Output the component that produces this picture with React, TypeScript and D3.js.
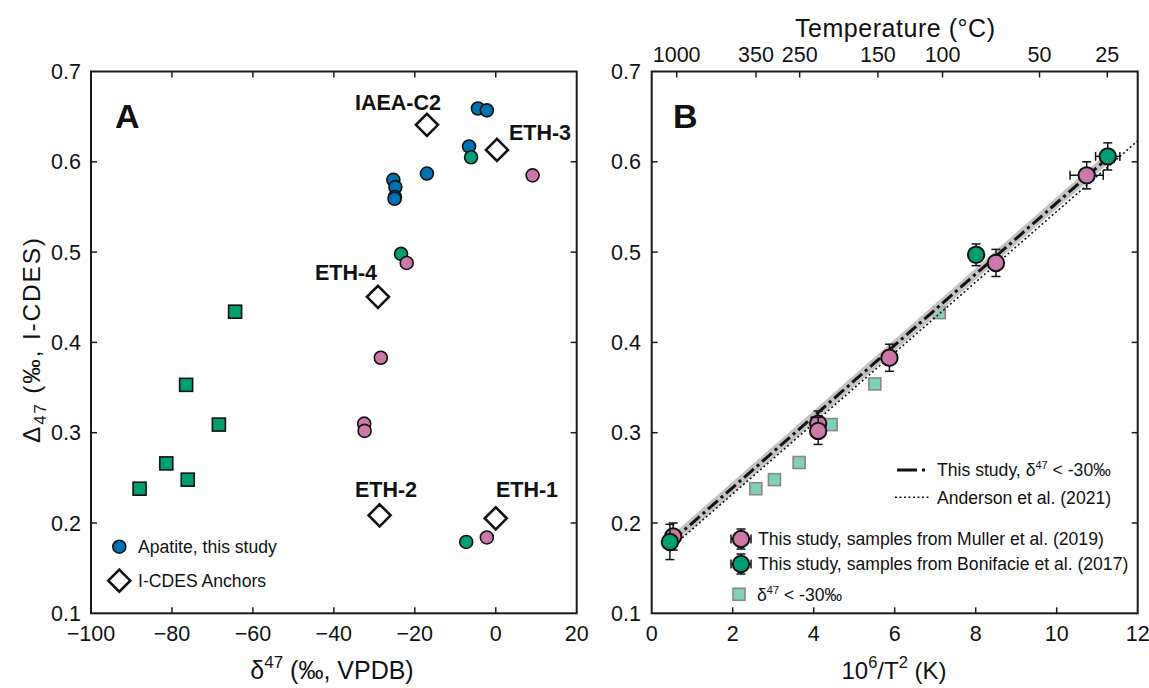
import React from "react";
import * as d3 from "d3";

// ---------- Panel A data: δ47 (‰ VPDB) vs Δ47 (‰ I-CDES) ----------
const apatiteD47 = [-4.4, -2.2, -6.6, -17.0, -25.3, -24.8, -24.9, -25.0];
const apatiteCap47 = [0.659, 0.657, 0.617, 0.587, 0.58, 0.572, 0.561, 0.559];

const mullerD47 = [9.1, -22.0, -28.4, -32.5, -32.4, -2.2];
const mullerCap47A = [0.585, 0.488, 0.383, 0.31, 0.302, 0.184];

const bonifD47 = [-6.1, -23.4, -7.3];
const bonifCap47A = [0.605, 0.498, 0.179];

const lowD47 = [-64.4, -76.5, -68.4, -81.4, -76.1, -88.0];
const lowCap47A = [0.434, 0.353, 0.309, 0.266, 0.248, 0.238];

const anchorNames = ["IAEA-C2", "ETH-3", "ETH-4", "ETH-2", "ETH-1"];
const anchorD47 = [-17.0, 0.3, -29.1, -28.7, 0.0];
const anchorCap47 = [0.6409, 0.6132, 0.4505, 0.2085, 0.2052];

// ---------- Panel B data: 10^6/T^2 vs Δ47 ----------
const mullerT2 = [10.74, 8.5, 5.87, 4.11, 4.11, 0.53];
const mullerCap47B = [0.585, 0.488, 0.383, 0.31, 0.302, 0.185];
const mullerErrY = [0.015, 0.015, 0.015, 0.014, 0.015, 0.015];
const mullerErrX = [0.41, 0, 0, 0, 0, 0];

const bonifT2 = [11.26, 8.01, 0.45];
const bonifCap47B = [0.606, 0.497, 0.179];
const bonifErrY = [0.015, 0.012, 0.0195];
const bonifErrX = [0.3, 0, 0];

const lowT2 = [7.1, 5.51, 4.43, 3.64, 3.03, 2.57];
const lowCap47B = [0.433, 0.354, 0.309, 0.267, 0.248, 0.238];

// regressions
const studySlope = 0.0394;
const studyIntercept = 0.1605;
const studyRange = [0.5, 11.4];
const studyBandHalf = 0.0065;
const andersonSlope = 0.0391;
const andersonIntercept = 0.154;
const andersonRange = [0.5, 12];

// ticks
const xTicksA = [-100, -80, -60, -40, -20, 0, 20];
const yTicks = [0.1, 0.2, 0.3, 0.4, 0.5, 0.6, 0.7];
const xTicksB = [0, 2, 4, 6, 8, 10, 12];
const tempTicks = [1000, 350, 250, 150, 100, 50, 25];

const FONT = "'Liberation Sans', Arial, Helvetica, sans-serif";
const BLUE = "#0072B2";
const GREEN = "#009E73";
const PINK = "#CC79A7";
const TEAL = "#80CFB9";

const xA = d3.scaleLinear().domain([-100, 20]).range([91, 576.7]);
const xB = d3.scaleLinear().domain([0, 12]).range([651.7, 1137.7]);
const yS = d3.scaleLinear().domain([0.1, 0.7]).range([613.3, 71.5]);

const diamond = (s: number) => `M0,${-s}L${s},0L0,${s}L${-s},0Z`;

function Frame({ x0, x1 }: { x0: number; x1: number }) {
  return (
    <rect x={x0} y={yS(0.7)} width={x1 - x0} height={yS(0.1) - yS(0.7)} fill="none" stroke="#1a1a1a" strokeWidth={2} />
  );
}

function ErrPoint({ cx, cy, ex, ey, fill, r }: any) {
  const cap = 4.5;
  return (
    <g stroke="#111" strokeWidth={1.5}>
      {ey > 0 && (
        <g>
          <line x1={cx} x2={cx} y1={cy - ey} y2={cy + ey} />
          <line x1={cx - cap} x2={cx + cap} y1={cy - ey} y2={cy - ey} />
          <line x1={cx - cap} x2={cx + cap} y1={cy + ey} y2={cy + ey} />
        </g>
      )}
      {ex > 0 && (
        <g>
          <line x1={cx - ex} x2={cx + ex} y1={cy} y2={cy} />
          <line x1={cx - ex} x2={cx - ex} y1={cy - cap} y2={cy + cap} />
          <line x1={cx + ex} x2={cx + ex} y1={cy - cap} y2={cy + cap} />
        </g>
      )}
      <circle cx={cx} cy={cy} r={r} fill={fill} strokeWidth={2} />
    </g>
  );
}

export default function App() {
  const tickLen = 6;
  const line = d3
    .line<number>()
    .x((d) => d[0])
    .y((d) => d[1]);
  const studyPts = studyRange.map((v) => [xB(v), yS(studySlope * v + studyIntercept)]);
  const andersonPts = andersonRange.map((v) => [xB(v), yS(andersonSlope * v + andersonIntercept)]);
  const band = d3
    .area<number>()
    .x((v) => xB(v))
    .y0((v) => yS(studySlope * v + studyIntercept - studyBandHalf))
    .y1((v) => yS(studySlope * v + studyIntercept + studyBandHalf));

  const top = yS(0.7);
  const bottom = yS(0.1);
  const TF = 21.5; // tick font
  const LF = 17.6; // legend font

  return (
    <svg width={1149} height={688} style={{ position: "absolute", left: 0, top: 0, background: "#fff" }} fontFamily={FONT}>
      {/* ================= PANEL A ================= */}
      <g>
        <g stroke="#1a1a1a" strokeWidth={1.5}>
          {xTicksA.slice(1, -1).map((t) => (
            <g key={"xa" + t}>
              <line x1={xA(t)} x2={xA(t)} y1={bottom} y2={bottom - tickLen} />
              <line x1={xA(t)} x2={xA(t)} y1={top} y2={top + tickLen} />
            </g>
          ))}
          {yTicks.slice(1, -1).map((t) => (
            <g key={"ya" + t}>
              <line x1={xA(-100)} x2={xA(-100) + tickLen} y1={yS(t)} y2={yS(t)} />
              <line x1={xA(20)} x2={xA(20) - tickLen} y1={yS(t)} y2={yS(t)} />
            </g>
          ))}
        </g>
        <Frame x0={xA(-100)} x1={xA(20)} />
        <g fontSize={TF} fill="#111">
          {xTicksA.map((t) => (
            <text key={"xal" + t} x={xA(t)} y={641} textAnchor="middle">
              {t < 0 ? "\u2212" + Math.abs(t) : t}
            </text>
          ))}
          {yTicks.map((t) => (
            <text key={"yal" + t} x={81} y={yS(t) + 7.5} textAnchor="end">
              {t.toFixed(1)}
            </text>
          ))}
        </g>
        <text x={332} y={679} textAnchor="middle" fontSize={25} fill="#111">
          δ<tspan fontSize={17} dy={-11}>47</tspan>
          <tspan dy={11}> (‰, VPDB)</tspan>
        </text>
        <text transform={`translate(40,340.5) rotate(-90)`} textAnchor="middle" fontSize={24.5} fill="#111" textLength={205} lengthAdjust="spacing">
          Δ<tspan fontSize={17} dy={6}>47</tspan>
          <tspan dy={-6}> (‰, I-CDES)</tspan>
        </text>
        <text x={115} y={128} fontSize={34} fontWeight="bold" fill="#111">A</text>

        {lowD47.map((d, i) => (
          <rect key={"sq" + i} x={xA(d) - 6.5} y={yS(lowCap47A[i]) - 6.5} width={13} height={13} fill={GREEN} stroke="#111" strokeWidth={1.6} />
        ))}
        {apatiteD47.map((d, i) => (
          <circle key={"ap" + i} cx={xA(d)} cy={yS(apatiteCap47[i])} r={6.5} fill={BLUE} stroke="#111" strokeWidth={1.6} />
        ))}
        {bonifD47.map((d, i) => (
          <circle key={"bo" + i} cx={xA(d)} cy={yS(bonifCap47A[i])} r={6.5} fill={GREEN} stroke="#111" strokeWidth={1.6} />
        ))}
        {mullerD47.map((d, i) => (
          <circle key={"mu" + i} cx={xA(d)} cy={yS(mullerCap47A[i])} r={6.5} fill={PINK} stroke="#111" strokeWidth={1.6} />
        ))}
        {anchorD47.map((d, i) => (
          <path key={"an" + i} d={diamond(11)} transform={`translate(${xA(d)},${yS(anchorCap47[i])})`} fill="#fff" stroke="#111" strokeWidth={2.6} />
        ))}
        <g fontSize={21.5} fontWeight="bold" fill="#111" textAnchor="middle">
          <text x={398} y={110}>{anchorNames[0]}</text>
          <text x={540} y={140}>{anchorNames[1]}</text>
          <text x={346} y={280}>{anchorNames[2]}</text>
          <text x={386} y={497}>{anchorNames[3]}</text>
          <text x={527} y={497}>{anchorNames[4]}</text>
        </g>
        <circle cx={119.3} cy={546.7} r={6.5} fill={BLUE} stroke="#111" strokeWidth={1.6} />
        <text x={138} y={553} fontSize={LF} fill="#111">Apatite, this study</text>
        <path d={diamond(11)} transform="translate(119.3,580.7)" fill="#fff" stroke="#111" strokeWidth={2.6} />
        <text x={138} y={587} fontSize={LF} fill="#111">I-CDES Anchors</text>
      </g>

      {/* ================= PANEL B ================= */}
      <g>
        <g stroke="#1a1a1a" strokeWidth={1.5}>
          {xTicksB.slice(1, -1).map((t) => (
            <line key={"xb" + t} x1={xB(t)} x2={xB(t)} y1={bottom} y2={bottom - tickLen} />
          ))}
          {tempTicks.map((t) => {
            const v = 1e6 / Math.pow(t + 273.15, 2);
            return <line key={"tt" + t} x1={xB(v)} x2={xB(v)} y1={top} y2={top + tickLen} />;
          })}
          {yTicks.slice(1, -1).map((t) => (
            <g key={"yb" + t}>
              <line x1={xB(0)} x2={xB(0) + tickLen} y1={yS(t)} y2={yS(t)} />
              <line x1={xB(12)} x2={xB(12) - tickLen} y1={yS(t)} y2={yS(t)} />
            </g>
          ))}
        </g>
        <g fontSize={TF} fill="#111">
          {xTicksB.map((t) => (
            <text key={"xbl" + t} x={xB(t)} y={641} textAnchor="middle">{t}</text>
          ))}
          {yTicks.map((t) => (
            <text key={"ybl" + t} x={641} y={yS(t) + 7.5} textAnchor="end">{t.toFixed(1)}</text>
          ))}
          {tempTicks.map((t) => {
            const v = 1e6 / Math.pow(t + 273.15, 2);
            return (
              <text key={"ttl" + t} x={xB(v)} y={62} textAnchor="middle">{t}</text>
            );
          })}
        </g>
        <text x={895} y={37} textAnchor="middle" fontSize={25} fill="#111" textLength={200} lengthAdjust="spacing">Temperature (°C)</text>
        <text x={894} y={679} textAnchor="middle" fontSize={24} fill="#111">
          10<tspan fontSize={16.5} dy={-11}>6</tspan>
          <tspan dy={11}>/T</tspan>
          <tspan fontSize={16.5} dy={-11}>2</tspan>
          <tspan dy={11}> (K)</tspan>
        </text>
        <text x={673} y={128} fontSize={34} fontWeight="bold" fill="#111">B</text>

        {lowT2.map((v, i) => (
          <rect key={"lb" + i} x={xB(v) - 6} y={yS(lowCap47B[i]) - 6} width={12} height={12} fill={TEAL} stroke="#888" strokeWidth={1.6} />
        ))}
        <path d={band(studyRange) || ""} fill="#b8b8b8" opacity={0.85} />
        <path d={line(andersonPts as any) || ""} fill="none" stroke="#111" strokeWidth={1.6} strokeDasharray="2,2.5" />
        <path d={line(studyPts as any) || ""} fill="none" stroke="#111" strokeWidth={3} strokeDasharray="13,4,3,4" />

        {mullerT2.map((v, i) => (
          <ErrPoint key={"mb" + i} cx={xB(v)} cy={yS(mullerCap47B[i])}
            ex={xB(mullerErrX[i]) - xB(0)} ey={yS(0) - yS(mullerErrY[i])} fill={PINK} r={8.2} />
        ))}
        {bonifT2.map((v, i) => (
          <ErrPoint key={"bb" + i} cx={xB(v)} cy={yS(bonifCap47B[i])}
            ex={xB(bonifErrX[i]) - xB(0)} ey={yS(0) - yS(bonifErrY[i])} fill={GREEN} r={8.2} />
        ))}

        <line x1={897} x2={926} y1={470} y2={470} stroke="#111" strokeWidth={3} strokeDasharray="20,5,3,5" />
        <text x={937} y={476} fontSize={LF} fill="#111">
          This study, δ<tspan fontSize={11} dy={-7}>47</tspan>
          <tspan dy={7}> &lt; -30‰</tspan>
        </text>
        <line x1={895} x2={929} y1={497.3} y2={497.3} stroke="#111" strokeWidth={1.6} strokeDasharray="2,2.5" />
        <text x={937} y={503.5} fontSize={LF} fill="#111">Anderson et al. (2021)</text>

        <ErrPoint cx={741} cy={539} ex={10} ey={10} fill={PINK} r={8.2} />
        <text x={758} y={545} fontSize={LF} fill="#111">This study, samples from Muller et al. (2019)</text>
        <ErrPoint cx={741} cy={564} ex={10} ey={10} fill={GREEN} r={8.2} />
        <text x={758} y={570} fontSize={LF} fill="#111">This study, samples from Bonifacie et al. (2017)</text>
        <rect x={733} y={588.3} width={12} height={12} fill={TEAL} stroke="#888" strokeWidth={1.6} />
        <text x={757} y={600.5} fontSize={LF} fill="#111">
          δ<tspan fontSize={11} dy={-7}>47</tspan>
          <tspan dy={7}> &lt; -30‰</tspan>
        </text>
        <Frame x0={xB(0)} x1={xB(12)} />
      </g>
    </svg>
  );
}
